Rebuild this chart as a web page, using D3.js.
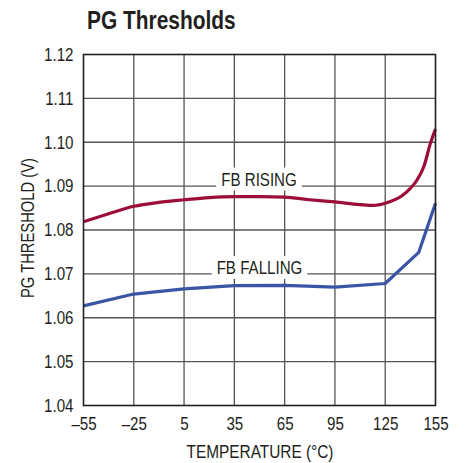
<!DOCTYPE html>
<html>
<head>
<meta charset="utf-8">
<script src="https://cdn.jsdelivr.net/npm/d3@7"></script>
<style>
html,body{margin:0;padding:0;background:#fff;}
svg{display:block;}
text{font-family:"Liberation Sans",Arial,sans-serif;fill:#231f20;}
</style>
</head>
<body>
<svg id="chart" width="466" height="463"></svg>
<script>
const title = "PG Thresholds";
const xTicks = [-55, -25, 5, 35, 65, 95, 125, 155];
const yTicks = [1.04, 1.05, 1.06, 1.07, 1.08, 1.09, 1.10, 1.11, 1.12];
const xLabel = "TEMPERATURE (°C)";
const yLabel = "PG THRESHOLD (V)";

const risingTemp  = [-55, -40, -25, -10, 5, 20, 35, 50, 65, 80, 95, 110, 118, 125, 135, 140, 144, 148, 152, 155];
const risingValue = [1.0819, 1.0837, 1.0854, 1.0863, 1.0869, 1.0874, 1.0876, 1.0876, 1.0875, 1.0869, 1.0864, 1.0858, 1.0856, 1.0861, 1.0878, 1.0895, 1.0914, 1.0944, 1.0998, 1.1030];
const fallingTemp  = [-55, -25, 5, 35, 65, 95, 125, 145, 155];
const fallingValue = [1.0627, 1.0654, 1.0666, 1.0673, 1.0674, 1.0670, 1.0678, 1.0749, 1.0861];

const risingLabel = "FB RISING";
const fallingLabel = "FB FALLING";

function condense(sel, factor) {
  const f = factor || 0.82;
  sel.each(function () {
    const w = this.getComputedTextLength();
    d3.select(this).attr("textLength", w * f).attr("lengthAdjust", "spacingAndGlyphs");
  });
}

const svg = d3.select("#chart");
const L = 83.5, R = 435.5, T = 54.5, B = 405.5;
const x = d3.scaleLinear().domain([-55, 155]).range([L, R]);
const y = d3.scaleLinear().domain([1.04, 1.12]).range([B, T]);

// grid
const grid = svg.append("g");
grid.selectAll("line.v").data(xTicks.slice(1, -1)).enter().append("line")
  .attr("x1", d => x(d)).attr("x2", d => x(d)).attr("y1", T).attr("y2", B)
  .attr("stroke", "#555").attr("stroke-width", 1.3);
grid.selectAll("line.h").data(yTicks.slice(1, -1)).enter().append("line")
  .attr("x1", L).attr("x2", R).attr("y1", d => y(d)).attr("y2", d => y(d))
  .attr("stroke", "#555").attr("stroke-width", 1.3);

// axes
const xAxis = d3.axisBottom(x).tickValues(xTicks).tickSize(0).tickPadding(12)
  .tickFormat(d => d < 0 ? "\u2013" + Math.abs(d) : String(d));
const gx = svg.append("g").attr("transform", `translate(0,${B})`).call(xAxis);
gx.select(".domain").remove();
gx.selectAll("text").attr("font-size", 18).style("font-family", null).attr("fill", "#231f20").call(condense, 0.84);

const yAxis = d3.axisLeft(y).tickValues(yTicks).tickSize(0).tickPadding(10)
  .tickFormat(d3.format(".2f"));
const gy = svg.append("g").attr("transform", `translate(${L},0)`).call(yAxis);
gy.select(".domain").remove();
gy.selectAll("text").attr("font-size", 18).style("font-family", null).attr("fill", "#231f20").call(condense, 0.84);

// labels with white boxes
function boxedLabel(txt, cx, baseY) {
  const g = svg.append("g");
  const rect = g.append("rect").attr("fill", "#fff");
  const t = g.append("text").attr("x", cx).attr("y", baseY)
    .attr("text-anchor", "middle").attr("font-size", 18).text(txt).call(condense, 0.84);
  const bb = t.node().getBBox();
  rect.attr("x", bb.x - 5).attr("y", bb.y - 2).attr("width", bb.width + 10).attr("height", bb.height + 3);
}
boxedLabel(risingLabel, 259, 185.5);
boxedLabel(fallingLabel, 259.5, 274);

// lines
const rising = risingTemp.map((t, i) => [t, risingValue[i]]);
const falling = fallingTemp.map((t, i) => [t, fallingValue[i]]);
svg.append("path").datum(rising)
  .attr("d", d3.line().x(d => x(d[0])).y(d => y(d[1])).curve(d3.curveMonotoneX))
  .attr("fill", "none").attr("stroke", "#9c0d38").attr("stroke-width", 3.2)
  .attr("stroke-linejoin", "round");
svg.append("path").datum(falling)
  .attr("d", d3.line().x(d => x(d[0])).y(d => y(d[1])))
  .attr("fill", "none").attr("stroke", "#3a55a6").attr("stroke-width", 3.2)
  .attr("stroke-linejoin", "round");

// frame
svg.append("rect").attr("x", L).attr("y", T).attr("width", R - L).attr("height", B - T)
  .attr("fill", "none").attr("stroke", "#231f20").attr("stroke-width", 1.6);

// titles
svg.append("text").attr("x", 87).attr("y", 29).attr("font-size", 25.5)
  .attr("font-weight", "bold").text(title).call(condense, 0.82);
svg.append("text").attr("x", 260).attr("y", 458).attr("text-anchor", "middle")
  .attr("font-size", 18).text(xLabel).call(condense, 0.855);
svg.append("text").attr("transform", `translate(34,228) rotate(-90)`)
  .attr("text-anchor", "middle").attr("font-size", 18).text(yLabel).call(condense, 0.82);
</script>
</body>
</html>
